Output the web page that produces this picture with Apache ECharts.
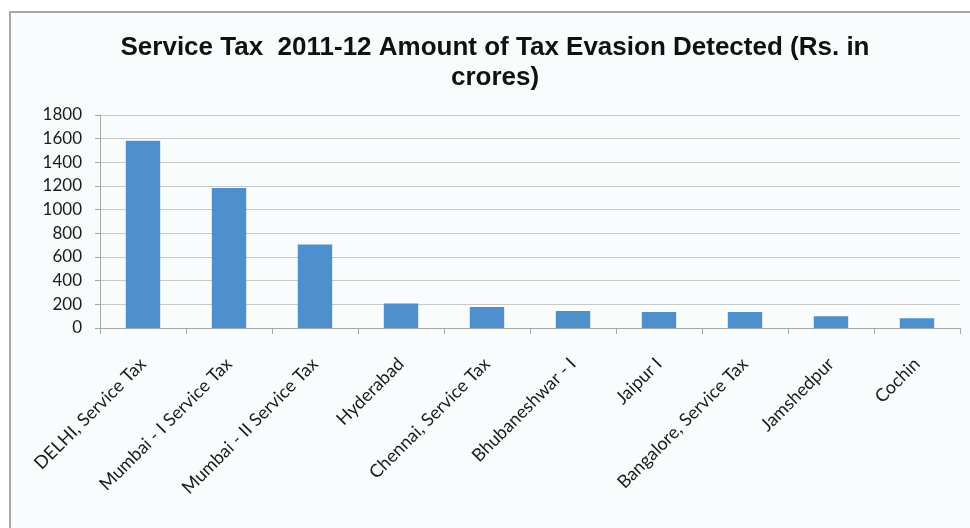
<!DOCTYPE html>
<html>
<head>
<meta charset="utf-8">
<script src="https://cdn.jsdelivr.net/npm/echarts@6/dist/echarts.min.js"></script>
<style>
  html, body { margin: 0; padding: 0; background: #ffffff; }
  #chart { width: 970px; height: 528px; }
</style>
</head>
<body>
<div id="chart"></div>
<script>
// Service Tax evasion detected by commissionerate, 2011-12 (Rs. in crores)
const categories = [
  'DELHI, Service Tax',
  'Mumbai - I Service Tax',
  'Mumbai - II Service Tax',
  'Hyderabad',
  'Chennai, Service Tax',
  'Bhubaneshwar - I',
  'Jaipur I',
  'Bangalore, Service Tax',
  'Jamshedpur',
  'Cochin'
];
const amounts = [1582, 1184, 705, 206, 178, 144, 135, 135, 99, 82];
const yTicks = { min: 0, max: 1800, interval: 200 };
const titleText = 'Service Tax  2011-12 Amount of Tax Evasion Detected (Rs. in\ncrores)';

const chart = echarts.init(document.getElementById('chart'), null, { renderer: 'canvas' });

chart.setOption({
  backgroundColor: '#ffffff',
  animation: false,
  graphic: [{
    type: 'rect',
    z: -10,
    shape: { x: 10, y: 12, width: 970, height: 530 },
    style: { fill: '#f9fcfd', stroke: '#a8a8a8', lineWidth: 2 }
  }],
  title: {
    text: titleText,
    left: 490,
    textAlign: 'center',
    top: 28,
    textStyle: {
      fontFamily: '"Liberation Sans", Arial, sans-serif',
      fontWeight: 'bold',
      fontSize: 26,
      lineHeight: 30,
      color: '#111111'
    }
  },
  grid: { left: 100, right: 10, top: 115, bottom: 200, containLabel: false },
  xAxis: {
    type: 'category',
    data: categories,
    boundaryGap: true,
    axisLine: { lineStyle: { color: '#a6a6a6', width: 1 } },
    axisTick: { show: true, alignWithLabel: false, length: 6, lineStyle: { color: '#a6a6a6' } },
    axisLabel: {
      interval: 0,
      rotate: 45,
      margin: 33,
      fontFamily: 'Lato, "Open Sans", sans-serif',
      fontSize: 18,
      color: '#1a1a1a'
    }
  },
  yAxis: {
    type: 'value',
    min: yTicks.min,
    max: yTicks.max,
    interval: yTicks.interval,
    axisLine: { show: true, lineStyle: { color: '#a6a6a6' } },
    axisTick: { show: true, length: 5, lineStyle: { color: '#a6a6a6' } },
    splitLine: { lineStyle: { color: '#c8c8c8', width: 1 } },
    axisLabel: {
      margin: 18,
      formatter: function (v) { return String(v); },
      fontFamily: 'Lato, "Open Sans", sans-serif',
      fontSize: 17,
      color: '#1a1a1a'
    }
  },
  series: [{
    type: 'bar',
    data: amounts,
    barWidth: '40%',
    itemStyle: { color: '#4d90cd' }
  }]
});
</script>
</body>
</html>
